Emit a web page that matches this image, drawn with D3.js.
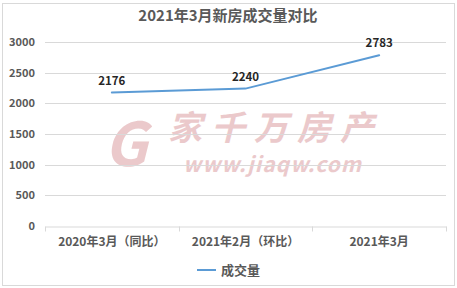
<!DOCTYPE html>
<html>
<head>
<meta charset="utf-8">
<script src="https://cdn.jsdelivr.net/npm/d3@7"></script>
<style>
  body { margin: 0; background: #fff; }
  text { font-family: "Noto Sans CJK SC", "Noto Sans", sans-serif; }
</style>
</head>
<body>
<script>
var categories = ['2020年3月（同比）', '2021年2月（环比）', '2021年3月'];
var values = [2176, 2240, 2783];
var yTicks = [0, 500, 1000, 1500, 2000, 2500, 3000];

var width = 457, height = 288;
var margin = {top: 42, right: 11, bottom: 62, left: 45};

var svg = d3.select('body').append('svg')
  .attr('width', width)
  .attr('height', height);

// chart frame
svg.append('rect')
  .attr('x', 2.5).attr('y', 3.5)
  .attr('width', 452).attr('height', 282)
  .attr('fill', '#fff')
  .attr('stroke', '#d9d9d9');

var x = d3.scaleBand()
  .domain(categories)
  .range([margin.left, width - margin.right]);

var y = d3.scaleLinear()
  .domain([0, 3000])
  .range([height - margin.bottom, margin.top]);

// watermark
var wm = svg.append('g').attr('fill', '#e3b3b6').attr('opacity', 0.7);
wm.append('text').attr('x', 104).attr('y', 166)
  .attr('font-size', 60).attr('font-weight', 'bold').attr('font-style', 'italic')
  .attr('font-family', 'DejaVu Sans').text('G');
wm.append('text').attr('x', 168).attr('y', 140)
  .attr('font-size', 34).attr('font-weight', 'bold').attr('font-style', 'italic')
  .attr('textLength', 206).text('家千万房产');
wm.append('text').attr('x', 183).attr('y', 172)
  .attr('font-size', 21).attr('font-weight', 'bold').attr('font-style', 'italic')
  .attr('font-family', 'DejaVu Sans').attr('textLength', 178).text('www.jiaqw.com');

// gridlines
svg.append('g')
  .selectAll('line')
  .data(yTicks.slice(1))
  .join('line')
  .attr('x1', margin.left).attr('x2', width - margin.right)
  .attr('y1', function(d) { return Math.round(y(d)) + 0.5; })
  .attr('y2', function(d) { return Math.round(y(d)) + 0.5; })
  .attr('stroke', '#d9d9d9');

// y axis labels
svg.append('g')
  .selectAll('text')
  .data(yTicks)
  .join('text')
  .attr('x', 35)
  .attr('y', function(d) { return y(d) + 4; })
  .attr('text-anchor', 'end')
  .attr('font-size', 11).attr('font-weight', 'bold')
  .attr('fill', '#595959')
  .text(function(d) { return d; });

// x axis
var xAxis = svg.append('g')
  .attr('transform', 'translate(0,' + (Math.round(y(0)) + 0.5) + ')')
  .call(d3.axisBottom(x).tickSize(0).tickFormat(''));
xAxis.select('.domain').attr('stroke', '#d9d9d9');
var bounds = x.domain().map(function(d) { return x(d); }).concat([x.range()[1]]);
xAxis.selectAll('.sep')
  .data(bounds)
  .join('line')
  .attr('class', 'sep')
  .attr('x1', function(d) { return Math.round(d) + 0.5; })
  .attr('x2', function(d) { return Math.round(d) + 0.5; })
  .attr('y1', 0).attr('y2', 5)
  .attr('stroke', '#d9d9d9');

svg.append('g')
  .selectAll('text')
  .data(categories)
  .join('text')
  .attr('x', function(d) { return x(d) + x.bandwidth() / 2; })
  .attr('y', 246)
  .attr('text-anchor', 'middle')
  .attr('font-size', 12).attr('font-weight', 'bold')
  .attr('fill', '#595959')
  .text(function(d) { return d; });

// line
var line = d3.line()
  .x(function(d, i) { return x(categories[i]) + x.bandwidth() / 2; })
  .y(function(d) { return y(d); });

svg.append('path')
  .datum(values)
  .attr('d', line)
  .attr('fill', 'none')
  .attr('stroke', '#5b9bd5')
  .attr('stroke-width', 2)
  .attr('stroke-linecap', 'round');

// data labels
svg.append('g')
  .selectAll('text')
  .data(values)
  .join('text')
  .attr('x', function(d, i) { return x(categories[i]) + x.bandwidth() / 2; })
  .attr('y', function(d) { return y(d) - 8; })
  .attr('text-anchor', 'middle')
  .attr('font-size', 11.5).attr('font-weight', 'bold')
  .attr('fill', '#262626')
  .text(function(d) { return d; });

// title
svg.append('text')
  .attr('x', 228).attr('y', 21)
  .attr('text-anchor', 'middle')
  .attr('font-size', 15).attr('font-weight', 'bold')
  .attr('fill', '#595959')
  .text('2021年3月新房成交量对比');

// legend
svg.append('line')
  .attr('x1', 197).attr('x2', 216)
  .attr('y1', 270).attr('y2', 270)
  .attr('stroke', '#5b9bd5').attr('stroke-width', 2);
svg.append('text')
  .attr('x', 221).attr('y', 275)
  .attr('font-size', 13).attr('font-weight', 'bold')
  .attr('fill', '#595959')
  .text('成交量');
</script>
</body>
</html>
